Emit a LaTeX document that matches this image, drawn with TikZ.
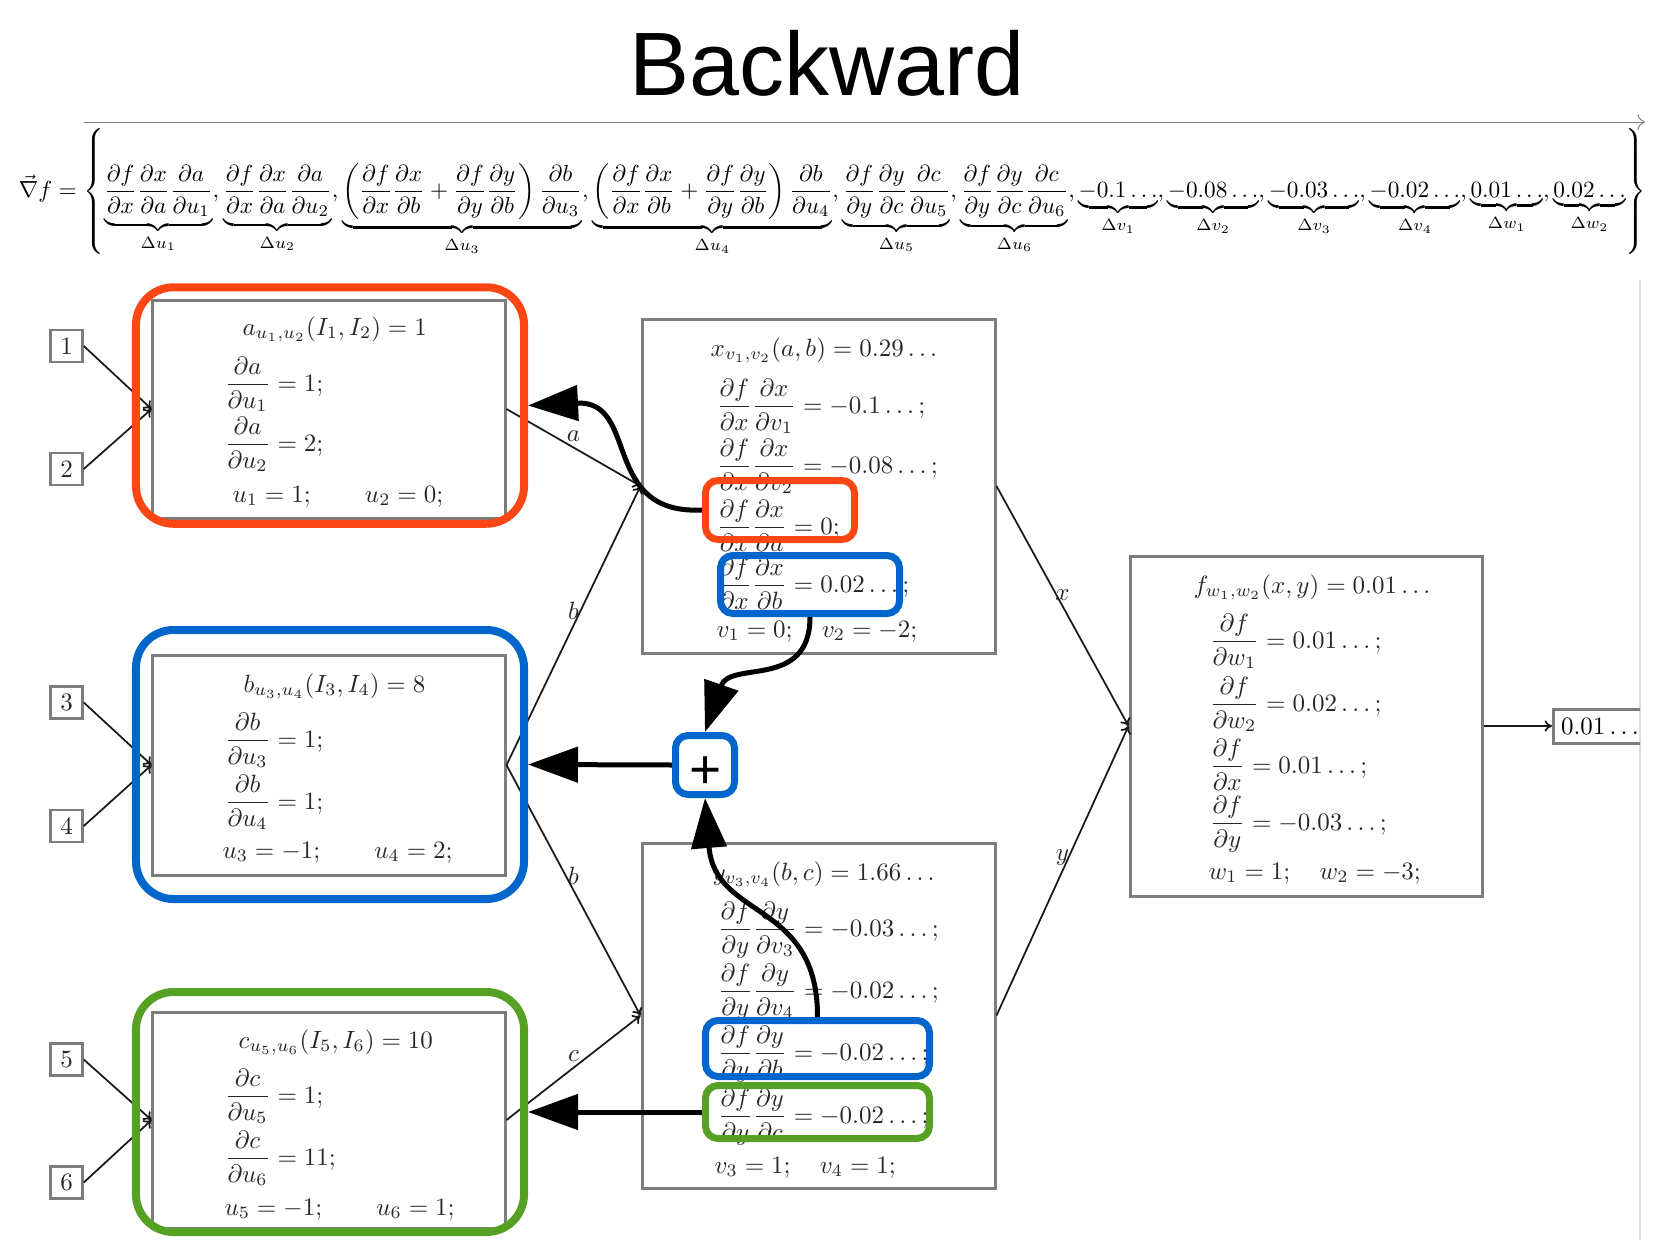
\documentclass[tikz,border=0pt]{standalone}
\usepackage{amsmath}
\usepackage{graphicx}
\usepackage{fontspec}
\newfontfamily\titlefont{Liberation Sans}
\usetikzlibrary{arrows.meta}
\definecolor{hlred}{RGB}{252,70,20}
\definecolor{hlblue}{RGB}{0,102,204}
\definecolor{hlgreen}{RGB}{86,160,36}
\definecolor{boxgray}{RGB}{125,125,125}
\newcommand{\mypd}[2]{\frac{\partial #1}{\partial #2}}
\newcommand{\mydpd}[2]{\dfrac{\partial #1}{\partial #2}}
\begin{document}
\begin{tikzpicture}[x=0.4pt,y=-0.4pt,
  gbox/.style={draw=boxgray, line width=1.2pt, inner sep=0pt},
  inbox/.style={draw=boxgray, line width=1pt, minimum size=12.8pt, inner sep=0pt, text=black!85},
  txt/.style={anchor=base west, inner sep=0pt, text=black!85},
  conn/.style={draw=black!90, line width=0.7pt, -{To[length=3pt,width=4.5pt]}},
  elab/.style={midway, above, text=black!85, inner sep=2pt},
  hlbig/.style={draw, line width=3.2pt, rounded corners=15pt, inner sep=0pt},
  hlsmall/.style={draw, line width=2.8pt, rounded corners=5pt, inner sep=0pt},
  bigarrow/.style={draw=black, line width=2pt, -{Triangle[length=20pt,width=14pt]}},
]
\useasboundingbox (0,0) rectangle (1655,1240);

% title and gradient
\node[font=\titlefont\fontsize{36}{40}\selectfont, anchor=base] (title) at (827,95) {Backward};
\coordinate (tl0) at (84,122);
\coordinate (tl1) at (1645,122);
\draw[gray, line width=0.4pt, -{To[length=3pt]}] (tl0) -- (tl1);
\node[inner sep=0pt] (grad) at (832.75,192) {\resizebox{651pt}{!}{$\displaystyle
\vec{\nabla} f = \left\{
\underbrace{\mypd{f}{x}\mypd{x}{a}\mypd{a}{u_1}}_{\Delta u_1},
\underbrace{\mypd{f}{x}\mypd{x}{a}\mypd{a}{u_2}}_{\Delta u_2},
\underbrace{\left(\mypd{f}{x}\mypd{x}{b}+\mypd{f}{y}\mypd{y}{b}\right)\mypd{b}{u_3}}_{\Delta u_3},
\underbrace{\left(\mypd{f}{x}\mypd{x}{b}+\mypd{f}{y}\mypd{y}{b}\right)\mypd{b}{u_4}}_{\Delta u_4},
\underbrace{\mypd{f}{y}\mypd{y}{c}\mypd{c}{u_5}}_{\Delta u_5},
\underbrace{\mypd{f}{y}\mypd{y}{c}\mypd{c}{u_6}}_{\Delta u_6},
\underbrace{-0.1\ldots}_{\Delta v_1},
\underbrace{-0.08\ldots}_{\Delta v_2},
\underbrace{-0.03\ldots}_{\Delta v_3},
\underbrace{-0.02\ldots}_{\Delta v_4},
\underbrace{0.01\ldots}_{\Delta w_1},
\underbrace{0.02\ldots}_{\Delta w_2}
\right\}$}};

% faint screenshot edge
\coordinate (e0) at (1640,280);
\coordinate (e1) at (1640,1240);
\draw[gray!25, line width=0.8pt] (e0) -- (e1);

% input boxes
\node[inbox] (i1) at (66.5,346) {1};
\node[inbox] (i2) at (66.5,469) {2};
\node[inbox] (i3) at (66.5,702.5) {3};
\node[inbox] (i4) at (66.5,826) {4};
\node[inbox] (i5) at (66.5,1059.5) {5};
\node[inbox] (i6) at (66.5,1182.5) {6};

% main boxes
\node[gbox, minimum width=140.8pt, minimum height=87.2pt] (A) at (329,409) {};
\node[gbox, minimum width=140.8pt, minimum height=88pt] (B) at (329,765) {};
\node[gbox, minimum width=140.8pt, minimum height=86.4pt] (C) at (329,1120) {};
\node[gbox, minimum width=141.2pt, minimum height=133.6pt] (X) at (818.5,486) {};
\node[gbox, minimum width=141.2pt, minimum height=138pt] (Y) at (818.5,1015.5) {};
\node[gbox, minimum width=140.8pt, minimum height=136pt] (F) at (1306,726) {};
\begin{scope}
\clip (0,0) rectangle (1640,1240);
\node[gbox, anchor=west, minimum height=13.6pt, inner xsep=3pt] (O) at (1552,726) {$0.01\ldots$};
\end{scope}

% box a
\node[txt] (a1) at (242,335) {$a_{u_1,u_2}(I_1,I_2) = 1$};
\node[txt] (a2) at (224,391) {$\mydpd{a}{u_1} = 1;$};
\node[txt] (a3) at (224,451) {$\mydpd{a}{u_2} = 2;$};
\node[txt] (a4) at (232,502) {$u_1 = 1;\qquad u_2 = 0;$};
% box b
\node[txt] (b1) at (243,692) {$b_{u_3,u_4}(I_3,I_4) = 8$};
\node[txt] (b2) at (224,747) {$\mydpd{b}{u_3} = 1;$};
\node[txt] (b3) at (224,809) {$\mydpd{b}{u_4} = 1;$};
\node[txt] (b4) at (222,858) {$u_3 = -1;\qquad u_4 = 2;$};
% box c
\node[txt] (c1) at (238,1048) {$c_{u_5,u_6}(I_5,I_6) = 10$};
\node[txt] (c2) at (224,1103) {$\mydpd{c}{u_5} = 1;$};
\node[txt] (c3) at (224,1165) {$\mydpd{c}{u_6} = 11;$};
\node[txt] (c4) at (224,1215) {$u_5 = -1;\qquad u_6 = 1;$};
% box x
\node[txt] (x1) at (710,356) {$x_{v_1,v_2}(a,b) = 0.29\ldots$};
\node[txt] (x2) at (716,413) {$\mydpd{f}{x}\mydpd{x}{v_1} = -0.1\ldots;$};
\node[txt] (x3) at (716,473) {$\mydpd{f}{x}\mydpd{x}{v_2} = -0.08\ldots;$};
\node[txt] (x4) at (716,534) {$\mydpd{f}{x}\mydpd{x}{a} = 0;$};
\node[txt] (x5) at (716,592) {$\mydpd{f}{x}\mydpd{x}{b} = 0.02\ldots;$};
\node[txt] (x6) at (716,637) {$v_1 = 0;\quad v_2 = -2;$};
% box y
\node[txt] (y1) at (712,880) {$y_{v_3,v_4}(b,c) = 1.66\ldots$};
\node[txt] (y2) at (717,936) {$\mydpd{f}{y}\mydpd{y}{v_3} = -0.03\ldots;$};
\node[txt] (y3) at (717,998) {$\mydpd{f}{y}\mydpd{y}{v_4} = -0.02\ldots;$};
\node[txt] (y4) at (717,1060) {$\mydpd{f}{y}\mydpd{y}{b} = -0.02\ldots;$};
\node[txt] (y5) at (717,1123) {$\mydpd{f}{y}\mydpd{y}{c} = -0.02\ldots;$};
\node[txt] (y6) at (714,1173) {$v_3 = 1;\quad v_4 = 1;$};
% box f
\node[txt] (f1) at (1193,593) {$f_{w_1,w_2}(x,y) = 0.01\ldots$};
\node[txt] (f2) at (1209,648) {$\mydpd{f}{w_1} = 0.01\ldots;$};
\node[txt] (f3) at (1209,711) {$\mydpd{f}{w_2} = 0.02\ldots;$};
\node[txt] (f4) at (1209,773) {$\mydpd{f}{x} = 0.01\ldots;$};
\node[txt] (f5) at (1209,830) {$\mydpd{f}{y} = -0.03\ldots;$};
\node[txt] (f6) at (1208,879) {$w_1 = 1;\quad w_2 = -3;$};

% graph edges
\draw[conn] (i1.east) -- (A.west);
\draw[conn] (i2.east) -- (A.west);
\draw[conn] (i3.east) -- (B.west);
\draw[conn] (i4.east) -- (B.west);
\draw[conn] (i5.east) -- (C.west);
\draw[conn] (i6.east) -- (C.west);
\draw[conn] (A.east) -- node[elab] (la) {$a$} (X.west);
\draw[conn] (B.east) -- node[elab] (lb1) {$b$} (X.west);
\draw[conn] (B.east) -- node[elab] (lb2) {$b$} (Y.west);
\draw[conn] (C.east) -- node[elab] (lc) {$c$} (Y.west);
\draw[conn] (X.east) -- node[elab] (lx) {$x$} (F.west);
\draw[conn] (Y.east) -- node[elab] (ly) {$y$} (F.west);
\draw[conn] (F.east) -- (O.west);

% highlights
\node[hlbig, draw=hlred, minimum width=155.2pt, minimum height=94.6pt] (hlA) at (330,405.5) {};
\node[hlbig, draw=hlblue, minimum width=155.2pt, minimum height=107.6pt] (hlB) at (330,764.5) {};
\node[hlbig, draw=hlgreen, minimum width=155.2pt, minimum height=96pt] (hlC) at (330,1112) {};
\node[hlsmall, draw=hlred, minimum width=59.6pt, minimum height=23.6pt] (hlRs) at (780,510) {};
\node[hlsmall, draw=hlblue, minimum width=71.6pt, minimum height=23.2pt] (hlBs) at (810,584.5) {};
\node[hlsmall, draw=hlblue, minimum width=89.6pt, minimum height=22.4pt] (hlBy) at (817.5,1048.5) {};
\node[hlsmall, draw=hlgreen, minimum width=89.6pt, minimum height=21.2pt] (hlGy) at (817.5,1112) {};
\node[hlsmall, draw=hlblue, minimum size=23.6pt] (plus) at (705,765) {};
\node[inner sep=0pt, font=\titlefont\fontsize{22}{22}\selectfont] (plustxt) at (706,773) {+};

% backward arrows
\draw[bigarrow] (hlRs.west) .. controls (600,515) and (640,400) .. (hlA.east);
\draw[bigarrow] (hlBs.south) .. controls (810,690) and (730,660) .. (plus.north);
\draw[bigarrow] (plus.west) -- (hlB.east);
\draw[bigarrow] (hlBy.north) .. controls (818,900) and (715,920) .. (plus.south);
\draw[bigarrow] (hlGy.west) -- (hlC.east);
\end{tikzpicture}
\end{document}
